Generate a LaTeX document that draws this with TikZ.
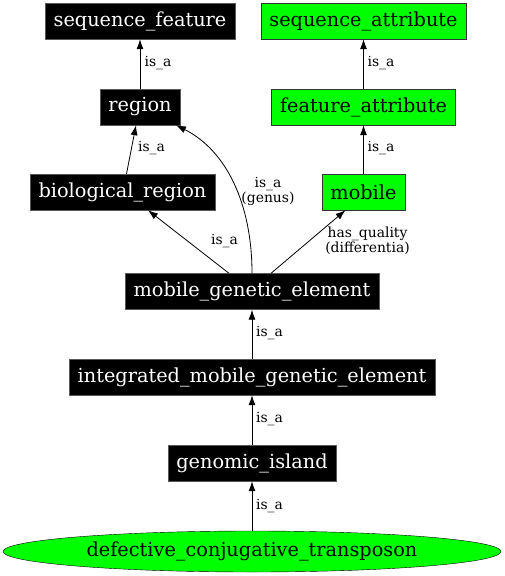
\documentclass[tikz,border=0pt]{standalone}
\usepackage{fontspec}
\setmainfont{DejaVu Serif}
\usepackage{tikz}
\usetikzlibrary{arrows.meta,shapes.geometric}
\definecolor{termgreen}{RGB}{0,255,0}
\tikzset{
  termbox/.style={draw=black!65, fill=black, text=white, minimum height=36pt, inner xsep=8.5pt, font=\fontsize{19.3}{23}\selectfont},
  attrbox/.style={draw=black!80, fill=termgreen, text=black, minimum height=36pt, inner xsep=8.5pt, font=\fontsize{19.3}{23}\selectfont},
  isa/.style={-{Latex[length=10pt,width=7pt]}, line width=0.8pt},
  lbl/.style={font=\fontsize{13.9}{15}\selectfont, align=center, inner sep=0pt}
}

\begin{document}
\begin{tikzpicture}[x=1pt,y=-1pt]
  \useasboundingbox (0,0) rectangle (504,576);
  \node[termbox] (seqfeat) at (140,21) {sequence\_feature}; \node[attrbox] (seqattr) at (363.5,21) {sequence\_attribute};
  \node[termbox] (region) at (140,107) {region}; \node[attrbox] (featattr) at (363.5,107) {feature\_attribute};
  \node[termbox] (bioreg) at (122.5,192) {biological\_region}; \node[attrbox] (mobile) at (363.5,192) {mobile};
  \node[termbox] (mge) at (252,291.5) {mobile\_genetic\_element};
  \node[termbox] (imge) at (252,377) {integrated\_mobile\_genetic\_element};
  \node[termbox] (genisl) at (252,463) {genomic\_island};
  \node[ellipse, draw=black, fill=termgreen, minimum width=498pt, minimum height=41pt, inner sep=0pt, font=\fontsize{19.3}{23}\selectfont] (dct) at (252,551.5) {defective\_conjugative\_transposon};

  \draw[isa] (region) -- (seqfeat); \draw[isa] (featattr) -- (seqattr); \draw[isa] (mobile) -- (featattr);
  \draw[isa] ([xshift=4pt]bioreg.north) -- ([xshift=-4pt]region.south);
  \draw[isa] (mge.north) .. controls +(0,-70) and +(50,25) .. ([xshift=36pt]region.south);
  \draw[isa] ([xshift=-23pt]mge.north) -- ([xshift=25.5pt]bioreg.south);
  \draw[isa] ([xshift=19pt]mge.north) -- ([xshift=-18pt]mobile.south);
  \draw[isa] (imge) -- (mge); \draw[isa] (genisl) -- (imge); \draw[isa] (dct) -- (genisl);

  \node[lbl] (l1) at (158,63) {is\_a}; \node[lbl] (l2) at (381,63) {is\_a};
  \node[lbl] (l3) at (151.5,148) {is\_a}; \node[lbl] (l4) at (381,148) {is\_a};
  \node[lbl] (l5) at (268,191) {is\_a\\(genus)};
  \node[lbl] (l6) at (224.5,241) {is\_a}; \node[lbl] (l7) at (367.5,241) {has\_quality\\(differentia)};
  \node[lbl] (l8) at (269.5,333) {is\_a}; \node[lbl] (l9) at (269.5,419) {is\_a}; \node[lbl] (l10) at (269.5,506) {is\_a};
\end{tikzpicture}
\end{document}
